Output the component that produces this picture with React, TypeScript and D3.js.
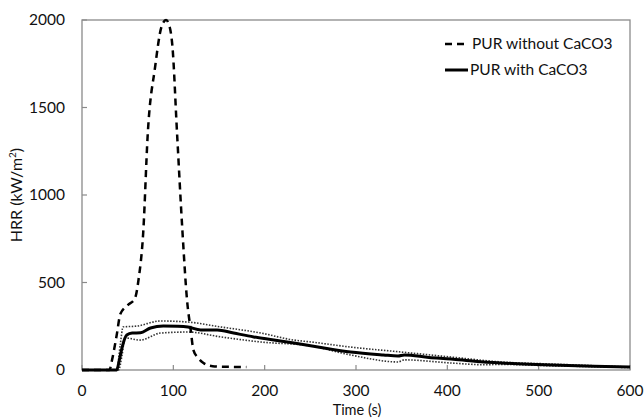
import React from 'react'
import * as d3 from 'd3'

// PUR without CaCO3 (dashed)
const timeNoCaCO3 = [0, 30, 33, 38, 42, 50, 58, 62, 67, 72, 80, 87, 92, 96, 99, 104, 110, 115, 119, 122, 127, 133, 143, 160, 180]
const hrrNoCaCO3 = [0, 0, 60, 200, 320, 370, 410, 520, 783, 1350, 1730, 1960, 2000, 1960, 1850, 1360, 790, 400, 230, 114, 70, 40, 22, 18, 17]

// PUR with CaCO3 (solid, mean)
const timeWith = [0, 38, 41, 44, 49, 55, 64, 75, 89, 105, 116, 130, 148, 166, 188, 210, 232, 260, 294, 330, 346, 353, 380, 404, 430, 459, 490, 514, 560, 600]
const hrrWith = [0, 0, 60, 131, 200, 211, 213, 240, 251, 250, 246, 229, 229, 211, 189, 172, 154, 130, 103, 86, 80, 86, 72, 63, 50, 40, 33, 29, 22, 17]

// dotted band around the CaCO3 curve
const timeUpper = [0, 38, 42, 45, 60, 86, 116, 152, 196, 232, 251, 294, 349, 404, 459, 514, 560, 600]
const hrrUpper = [0, 0, 150, 246, 251, 280, 274, 246, 211, 171, 160, 131, 103, 74, 46, 34, 25, 17]
const timeLower = [0, 40, 44, 47, 64, 86, 116, 152, 196, 251, 294, 346, 353, 404, 441, 459, 514, 560, 600]
const hrrLower = [0, 0, 90, 183, 171, 211, 217, 189, 160, 137, 86, 46, 58, 40, 30, 32, 24, 19, 14]

const xTicks = [0, 100, 200, 300, 400, 500, 600]
const yTicks = [0, 500, 1000, 1500, 2000]

const legendLabels = ['PUR without CaCO3', 'PUR with CaCO3']

const W = 644
const H = 420
const left = 82
const right = 630
const top = 20
const bottom = 370
const font = 'Lato, "Open Sans", sans-serif'
const axisColor = '#8a8a8a'

const zip = (t: number[], v: number[]) => t.map((d, i) => [d, v[i]] as [number, number])

const App = () => {
  const x = d3.scaleLinear().domain([0, 600]).range([left, right])
  const y = d3.scaleLinear().domain([0, 2000]).range([bottom, top])

  const line = d3
    .line<[number, number]>()
    .x(d => x(d[0]))
    .y(d => y(d[1]))
    .curve(d3.curveMonotoneX)

  return (
    <div>
      <style>{`body{margin:0}`}</style>
      <svg width={W} height={H} style={{ display: 'block', background: '#fff' }}>
        {/* plot frame */}
        <rect x={left} y={top} width={right - left} height={bottom - top} fill='none' stroke={axisColor} strokeWidth={1.3} />

        {/* ticks and labels */}
        {xTicks.map(t => (
          <g key={'x' + t}>
            <line x1={x(t)} x2={x(t)} y1={bottom} y2={bottom - 5} stroke={axisColor} strokeWidth={1.2} />
            <text x={x(t)} y={396} textAnchor='middle' fontFamily={font} fontSize={15.5} fill='#111'>
              {t}
            </text>
          </g>
        ))}
        {yTicks.map(t => (
          <g key={'y' + t}>
            <line x1={left} x2={left + 5} y1={y(t)} y2={y(t)} stroke={axisColor} strokeWidth={1.2} />
            <text x={65} y={y(t) + 5} textAnchor='end' fontFamily={font} fontSize={15.5} fill='#111'>
              {t}
            </text>
          </g>
        ))}

        <text x={357} y={415} textAnchor='middle' fontFamily={font} fontSize={14.5} fill='#111'>
          Time (s)
        </text>
        <text transform='translate(22,195) rotate(-90)' textAnchor='middle' fontFamily={font} fontSize={16} fill='#111'>
          HRR (kW/m<tspan dy={-6} fontSize={10}>2</tspan>
          <tspan dy={6}>)</tspan>
        </text>

        {/* dotted band */}
        <path d={line(zip(timeUpper, hrrUpper)) || ''} fill='none' stroke='#333' strokeWidth={1.6} strokeDasharray='1.5,1.5' />
        <path d={line(zip(timeLower, hrrLower)) || ''} fill='none' stroke='#333' strokeWidth={1.6} strokeDasharray='1.5,1.5' />

        {/* main curves */}
        <path d={line(zip(timeWith, hrrWith)) || ''} fill='none' stroke='#000' strokeWidth={3} />
        <path d={line(zip(timeNoCaCO3, hrrNoCaCO3)) || ''} fill='none' stroke='#000' strokeWidth={2.5} strokeDasharray='7,5' />

        {/* legend */}
        <line x1={445} x2={468} y1={44} y2={44} stroke='#000' strokeWidth={2.5} strokeDasharray='7,5' />
        <text x={472} y={49} fontFamily={font} fontSize={15.5} fill='#111'>
          {legendLabels[0]}
        </text>
        <line x1={445} x2={468} y1={70} y2={70} stroke='#000' strokeWidth={3} />
        <text x={470} y={75} fontFamily={font} fontSize={15.5} fill='#111'>
          {legendLabels[1]}
        </text>
      </svg>
    </div>
  )
}

export default App
